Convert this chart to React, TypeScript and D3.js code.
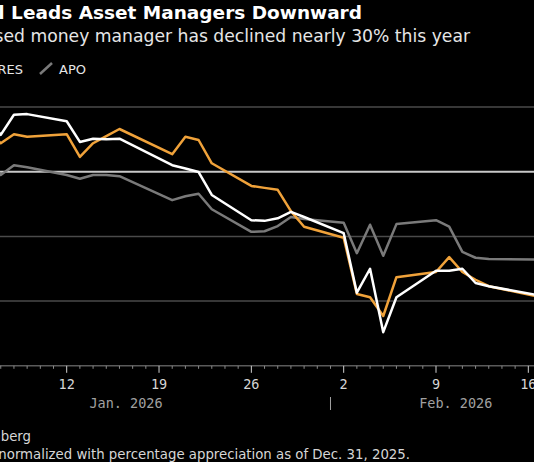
import { useEffect, useRef } from 'react';
import * as d3 from 'd3';

// trading days shown (Dec. 31 baseline is off the left edge)
const dates = [
  '2026-01-06', '2026-01-07', '2026-01-08', '2026-01-09',
  '2026-01-12', '2026-01-13', '2026-01-14', '2026-01-15', '2026-01-16',
  '2026-01-20', '2026-01-21', '2026-01-22', '2026-01-23',
  '2026-01-26', '2026-01-27', '2026-01-28', '2026-01-29', '2026-01-30',
  '2026-02-02', '2026-02-03', '2026-02-04', '2026-02-05', '2026-02-06',
  '2026-02-09', '2026-02-10', '2026-02-11', '2026-02-12', '2026-02-13',
  '2026-02-17',
];

// % change since Dec. 31, 2025
const owl = [
  8.3, 5.7, 8.8, 8.9,
  7.8, 4.6, 5.1, 5.0, 5.1,
  1.0, 0.5, -0.05, -3.6,
  -7.5, -7.6, -7.2, -6.2, -7.0,
  -9.5, -18.7, -15.0, -24.8, -19.4,
  -15.3, -15.3, -15.0, -17.2, -17.7,
  -19.2,
];
const ares = [
  6.4, 4.4, 5.8, 5.4,
  5.8, 2.3, 4.4, 5.5, 6.6,
  2.7, 5.4, 4.9, 1.3,
  -2.2, -2.5, -2.8, -6.1, -8.5,
  -10.2, -18.9, -19.4, -22.3, -16.3,
  -15.5, -13.2, -15.5, -16.7, -17.7,
  -19.4,
];
const apo = [
  2.6, -0.5, 1.0, 0.7,
  -0.5, -1.1, -0.5, -0.5, -0.7,
  -4.4, -3.8, -3.4, -5.8,
  -9.3, -9.2, -8.4, -7.0, -7.3,
  -7.9, -12.6, -8.2, -13.0, -8.1,
  -7.5, -8.5, -12.4, -13.3, -13.5,
  -13.6,
];

const yTicks = [10, 0, -10, -20];
const tickMondays = ['2026-01-05', '2026-01-12', '2026-01-19', '2026-01-26', '2026-02-02', '2026-02-09', '2026-02-16'];
const months = [
  { label: 'Jan. 2026', at: '2026-01-16T12' },
  { label: 'Feb. 2026', at: '2026-02-10T12' },
];

const series = [
  { name: 'OWL', values: owl, color: '#ffffff' },
  { name: 'ARES', values: ares, color: '#f0a23a' },
  { name: 'APO', values: apo, color: '#7a7a7a' },
];

const W = 534;
const H = 462;
const SANS = '"DejaVu Sans", "Noto Sans", sans-serif';
const MONO = '"DejaVu Sans Mono", monospace';

export default function App() {
  const svgRef = useRef<SVGSVGElement>(null);

  useEffect(() => {
    if (!svgRef.current) return;
    const svg = d3.select(svgRef.current);
    svg.selectAll('*').remove();

    const parse = d3.utcParse('%Y-%m-%d');
    const parseHour = d3.utcParse('%Y-%m-%dT%H');
    const x = d3.scaleUtc()
      .domain([parse('2026-01-12')!, parse('2026-02-09')!])
      .range([66.7, 436]);
    const y = d3.scaleLinear().domain([0, -30]).range([171.7, 365.8]);

    svg.append('rect').attr('width', W).attr('height', H).attr('fill', '#000');

    // Title block (the crop cuts its left part)
    svg.append('text')
      .attr('x', 362).attr('y', 19)
      .attr('text-anchor', 'end')
      .attr('font-family', SANS).attr('font-weight', 700).attr('font-size', 18.5)
      .attr('fill', '#fff')
      .text('Blue Owl Leads Asset Managers Downward');
    svg.append('text')
      .attr('x', 470).attr('y', 42)
      .attr('text-anchor', 'end')
      .attr('font-family', SANS).attr('font-size', 17.2)
      .attr('fill', '#e6e6e6')
      .text('The New York-based money manager has declined nearly 30% this year');

    // Legend
    const legend = [
      { name: 'OWL', color: '#ffffff', end: -62 },
      { name: 'ARES', color: '#f0a23a', end: 23 },
      { name: 'APO', color: '#7a7a7a', end: 86 },
    ];
    legend.forEach(l => {
      svg.append('text')
        .attr('x', l.end).attr('y', 74)
        .attr('text-anchor', 'end')
        .attr('font-family', SANS).attr('font-size', 13)
        .attr('fill', '#e6e6e6')
        .text(l.name);
    });
    [{ x0: -112, c: '#ffffff' }, { x0: -37, c: '#f0a23a' }, { x0: 40, c: '#7a7a7a' }].forEach(s => {
      svg.append('line')
        .attr('x1', s.x0).attr('y1', 74).attr('x2', s.x0 + 12).attr('y2', 63)
        .attr('stroke', s.c).attr('stroke-width', 2.5);
    });

    // Gridlines
    yTicks.forEach(t => {
      svg.append('line')
        .attr('x1', 0).attr('x2', W)
        .attr('y1', y(t)).attr('y2', y(t))
        .attr('stroke', t === 0 ? '#c8c8c8' : '#4a4a4a')
        .attr('stroke-width', t === 0 ? 2 : 1.5);
    });

    // Axis
    const axisY = y(-30);
    svg.append('line')
      .attr('x1', 0).attr('x2', W).attr('y1', axisY).attr('y2', axisY)
      .attr('stroke', '#5a5a5a').attr('stroke-width', 1.5);

    const days = d3.utcDay.range(parse('2026-01-01')!, parse('2026-02-20')!);
    const mondaySet = new Set(tickMondays);
    const fmt = d3.utcFormat('%Y-%m-%d');
    days.forEach(d => {
      const major = mondaySet.has(fmt(d));
      svg.append('line')
        .attr('x1', x(d)).attr('x2', x(d))
        .attr('y1', axisY).attr('y2', axisY + (major ? 7 : 3))
        .attr('stroke', major ? '#d0d0d0' : '#8a8a8a').attr('stroke-width', 1);
    });
    tickMondays.forEach(s => {
      const d = parse(s)!;
      svg.append('text')
        .attr('x', x(d)).attr('y', 389)
        .attr('text-anchor', 'middle')
        .attr('font-family', MONO).attr('font-size', 13.5)
        .attr('fill', '#d6d6d6')
        .text(d3.utcFormat('%-d')(d));
    });
    months.forEach(m => {
      svg.append('text')
        .attr('x', x(parseHour(m.at)!)).attr('y', 408)
        .attr('text-anchor', 'middle')
        .attr('font-family', MONO).attr('font-size', 13.5)
        .attr('fill', '#a0a0a0')
        .text(m.label);
    });
    const feb1 = x(parse('2026-02-01')!);
    svg.append('line')
      .attr('x1', feb1).attr('x2', feb1).attr('y1', 397).attr('y2', 410)
      .attr('stroke', '#a0a0a0').attr('stroke-width', 1);

    // Lines (APO underneath)
    const line = d3.line<number>()
      .x((_, i) => x(parse(dates[i])!))
      .y(v => y(v));
    [...series].reverse().forEach(s => {
      svg.append('path')
        .attr('d', line(s.values))
        .attr('fill', 'none')
        .attr('stroke', s.color)
        .attr('stroke-width', 2.5)
        .attr('stroke-linejoin', 'round');
    });

    // Footer
    svg.append('text')
      .attr('x', 31).attr('y', 441)
      .attr('text-anchor', 'end')
      .attr('font-family', SANS).attr('font-size', 13.3)
      .attr('fill', '#d6d6d6')
      .text('Source: Bloomberg');
    svg.append('text')
      .attr('x', 410).attr('y', 459)
      .attr('text-anchor', 'end')
      .attr('font-family', SANS).attr('font-size', 13.3)
      .attr('fill', '#d6d6d6')
      .text('Note: Data normalized with percentage appreciation as of Dec. 31, 2025.');
  }, []);

  return (
    <>
      <style>{'body{margin:0;background:#000}'}</style>
      <svg ref={svgRef} width={W} height={H} style={{ display: 'block' }} />
    </>
  );
}
